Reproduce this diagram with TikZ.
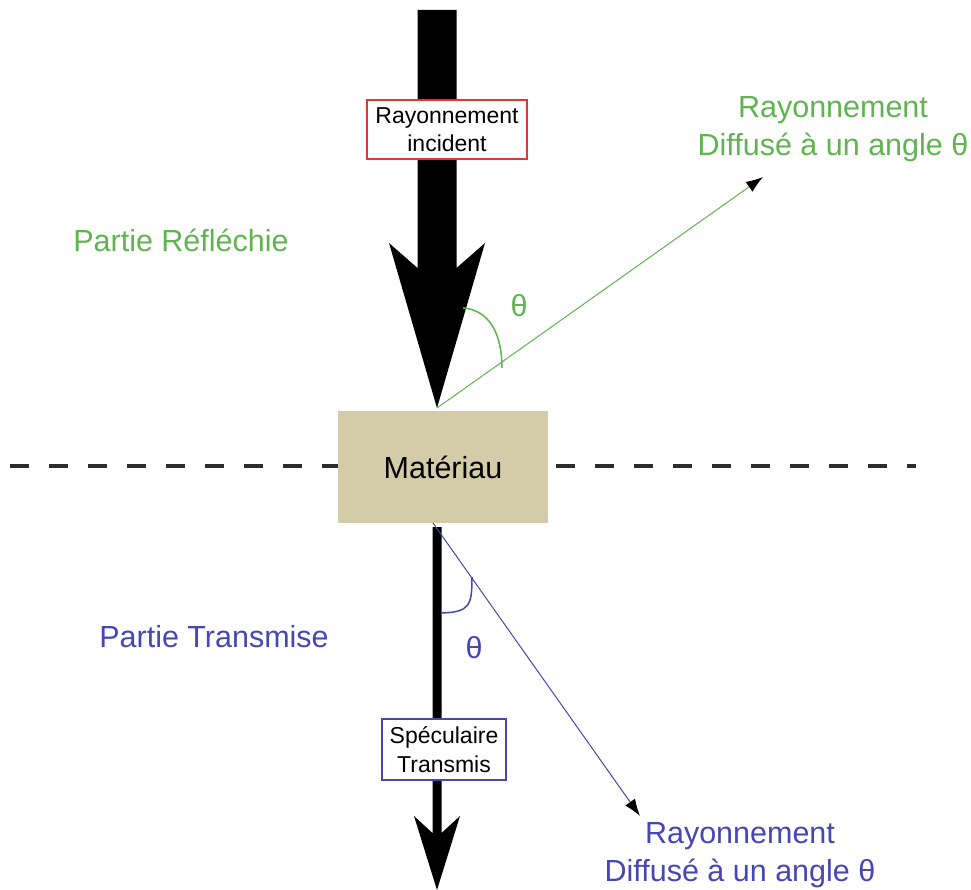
\documentclass[tikz,border=0pt]{standalone}
\usepackage{fontspec}
\setmainfont{Liberation Sans}
\usetikzlibrary{arrows.meta,calc}
\definecolor{grn}{RGB}{96,180,80}
\definecolor{blu}{RGB}{70,70,180}
\definecolor{redb}{RGB}{228,52,52}
\definecolor{mattan}{RGB}{212,203,168}
\definecolor{dashgray}{RGB}{45,45,45}
\begin{document}
\begin{tikzpicture}[x=1pt,y=-1pt,
  big/.style={font=\fontsize{30.5}{38}\selectfont},
  small/.style={font=\fontsize{23}{28.5}\selectfont},
  thinarrow/.style={line width=1pt,-{Latex[length=17pt,width=12pt,color=black]}},
  labelbox/.style={draw,line width=1.5pt,fill=white,small,align=center,inner sep=0pt},
  anglearc/.style={line width=1.5pt}]
\useasboundingbox (0,0) rectangle (971,890);
% dashed interface line
\coordinate (dl) at (10,466);
\coordinate (dr) at (916,466);
\draw[dashgray, line width=3.5pt, dash pattern=on 19pt off 20pt] (dl) -- (dr);
% material
\node[fill=mattan, minimum width=210pt, minimum height=112pt, inner sep=0pt, big] (mat) at (443,467) {Matériau};
% incident arrow
\coordinate (inTop) at (437,10);
\coordinate (tipTop) at (437,408);
\fill (tipTop) -- ($(tipTop)+(48,-165)$) -- ($(tipTop)+(19.5,-140)$) -- ($(inTop)+(19.5,0)$)
  -- ($(inTop)+(-19.5,0)$) -- ($(tipTop)+(-19.5,-140)$) -- ($(tipTop)+(-48,-165)$) -- cycle;
\node[labelbox, draw=redb, minimum width=160pt, minimum height=59pt] (inc) at (447,129.5) {Rayonnement\\incident};
% transmitted arrow
\coordinate (shaftTop) at (437,527);
\coordinate (tipBot) at (437,890);
\fill (tipBot) -- ($(tipBot)+(23,-74)$) -- ($(tipBot)+(4.5,-57)$) -- ($(shaftTop)+(4.5,0)$)
  -- ($(shaftTop)+(-4.5,0)$) -- ($(tipBot)+(-4.5,-57)$) -- ($(tipBot)+(-23,-74)$) -- cycle;
\node[labelbox, draw=blu, minimum width=124pt, minimum height=61pt] (spec) at (444,749.5) {Spéculaire\\Transmis};
% diffuse reflected
\coordinate (gEnd) at (763,177);
\draw[grn, thinarrow] (tipTop) -- (gEnd);
\draw[grn, anglearc] (463,308) .. controls (490,310) and (502,335) .. (502,368);
\node[grn, big] (thG) at (519,306) {θ};
% diffuse transmitted
\coordinate (bStart) at (433,523);
\coordinate (bEnd) at (640,816);
\draw[blu, thinarrow] (bStart) -- (bEnd);
\draw[blu, anglearc] (442,613) .. controls (470,612) and (472,605) .. (472,577);
\node[blu, big] (thB) at (474,648) {θ};
% labels
\node[grn, big, anchor=base] (partR) at (181,252) {Partie Réfléchie};
\node[blu, big, anchor=base] (partT) at (214,647) {Partie Transmise};
\node[grn, big, align=center, anchor=base] (diffG) at (833,156) {Rayonnement\\Diffusé à un angle θ};
\node[blu, big, align=center, anchor=base] (diffB) at (740,881) {Rayonnement\\Diffusé à un angle θ};
\end{tikzpicture}
\end{document}
